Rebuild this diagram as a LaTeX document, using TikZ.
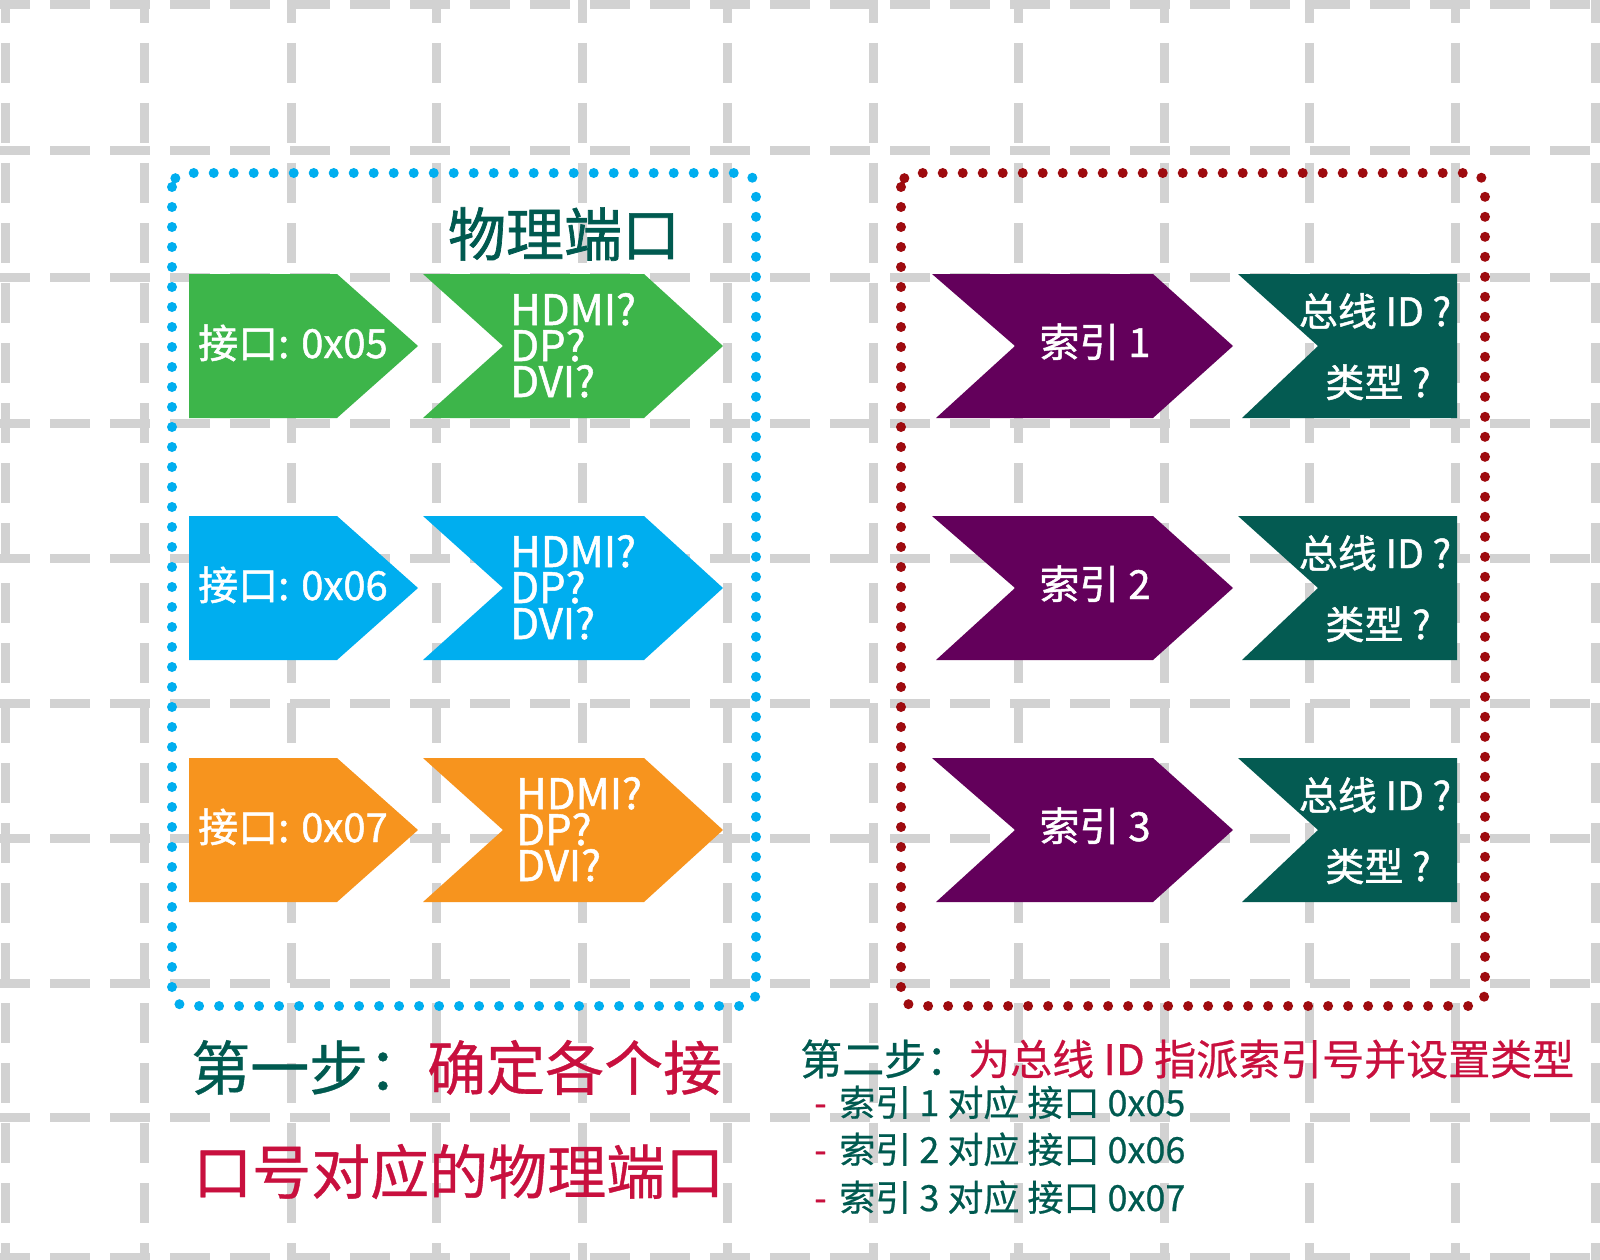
\documentclass[tikz,border=0pt]{standalone}
\usepackage{fontspec}
\setmainfont{Noto Sans CJK SC}
\newfontfamily\heavyish[FakeBold=1.2]{Noto Sans CJK SC}
\newfontfamily\mediumish[FakeBold=0.6]{Noto Sans CJK SC}
\definecolor{gridgray}{HTML}{D2D2D2}
\definecolor{cbluedot}{HTML}{00AEEF}
\definecolor{creddot}{HTML}{9E0B0F}
\definecolor{cgreen}{HTML}{3DB54A}
\definecolor{cblue}{HTML}{00AEEF}
\definecolor{corange}{HTML}{F7941E}
\definecolor{cpurple}{HTML}{63005B}
\definecolor{cteal}{HTML}{045B52}
\definecolor{ctealtext}{HTML}{005A50}
\definecolor{ccrimson}{HTML}{C8103E}
\newcommand\fsz[1]{\fontsize{#1pt}{#1pt}\selectfont}
\tikzset{
  gridh/.style={draw=gridgray, line width=9pt, dash pattern=on 40pt off 20pt, dash phase=10pt},
  gridv/.style={draw=gridgray, line width=9pt, dash pattern=on 40pt off 20pt, dash phase=17pt},
  dotbox/.style={line width=10pt, line cap=round, dash pattern=on 0pt off 20pt, rounded corners=14pt},
  txt/.style={inner sep=0pt, text=white},
}
\begin{document}
\begin{tikzpicture}[x=1pt, y=-1pt]
\useasboundingbox (0,0) rectangle (1600,1260);
\fill[white] (0,0) rectangle (1600,1260);
% background grid
\foreach \y in {5,151,277,423,558,703,838,983,1117,1257}
  \draw[gridh] (0,\y) -- (1600,\y);
\foreach \x in {5,144,291,436,582,727,873,1018,1164,1309,1455,1595}
  \draw[gridv] (\x,0) -- (\x,1260);
% dotted frames
\draw[dotbox, draw=cbluedot] (172,173) rectangle (756,1006);
\draw[dotbox, draw=creddot] (901,173) rectangle (1485,1006);
% title
\node[inner sep=0pt, anchor=base, font=\heavyish\fsz{58}, text=ctealtext] (title) at (564,256) {物理端口};
% left column
\foreach \r/\m/\c/\num/\hx in {1/346/cgreen/05/510, 2/588/cblue/06/510, 3/830/corange/07/516}{
  \fill[\c] (189,\m-72) -- (337,\m-72) -- (418,\m) -- (337,\m+72) -- (189,\m+72) -- cycle;
  \fill[\c] (423,\m-72) -- (644,\m-72) -- (723,\m) -- (644,\m+72) -- (423,\m+72) -- (503,\m) -- cycle;
  \node[txt, anchor=base west, font=\heavyish\fsz{40}] (port\r) at (198,\m+12) {接口: 0x\num};
  \node[txt, anchor=base west, font=\heavyish\fsz{42}] (hd\r) at (\hx,\m-21) {HDMI?};
  \node[txt, anchor=base west, font=\heavyish\fsz{42}] (dp\r) at (\hx,\m+15) {DP?};
  \node[txt, anchor=base west, font=\heavyish\fsz{42}] (dvi\r) at (\hx,\m+51) {DVI?};
}
% right column
\foreach \r/\m in {1/346, 2/588, 3/830}{
  \fill[cpurple] (932,\m-72) -- (1153,\m-72) -- (1233,\m) -- (1153,\m+72) -- (936,\m+72) -- (1015,\m) -- cycle;
  \fill[cteal] (1238,\m-72) -- (1457,\m-72) -- (1457,\m+72) -- (1242,\m+72) -- (1318,\m) -- cycle;
  \node[txt, anchor=base, font=\heavyish\fsz{40}] (idx\r) at (1095,\m+11) {索引 \r};
  \node[txt, anchor=base, font=\heavyish\fsz{39}] (bus\r) at (1375,\m-20) {总线 ID ?};
  \node[txt, anchor=base, font=\heavyish\fsz{39}] (typ\r) at (1378,\m+51) {类型 ?};
}
% bottom texts
\node[inner sep=0pt, anchor=base west, font=\mediumish\fsz{59}] (stepone) at (191,1090)
  {\textcolor{ctealtext}{第一步：}\textcolor{ccrimson}{确定各个接}};
\node[inner sep=0pt, anchor=base west, font=\mediumish\fsz{59}, text=ccrimson] (steponeb) at (193,1194)
  {口号对应的物理端口};
\node[inner sep=0pt, anchor=base west, font=\mediumish\fsz{42}] (steptwo) at (800,1075)
  {\textcolor{ctealtext}{第二步：}\textcolor{ccrimson}{为总线 ID 指派索引号并设置类型}};
\foreach \i/\b/\p in {1/1116/05, 2/1163/06, 3/1211/07}
  \node[inner sep=0pt, anchor=base west, font=\mediumish\fsz{36}, text=ctealtext] (map\i) at (814,\b)
    {\textcolor{ccrimson}{-}\hspace{0.35em}索引 \i{} 对应 接口 0x\p};
\end{tikzpicture}
\end{document}
